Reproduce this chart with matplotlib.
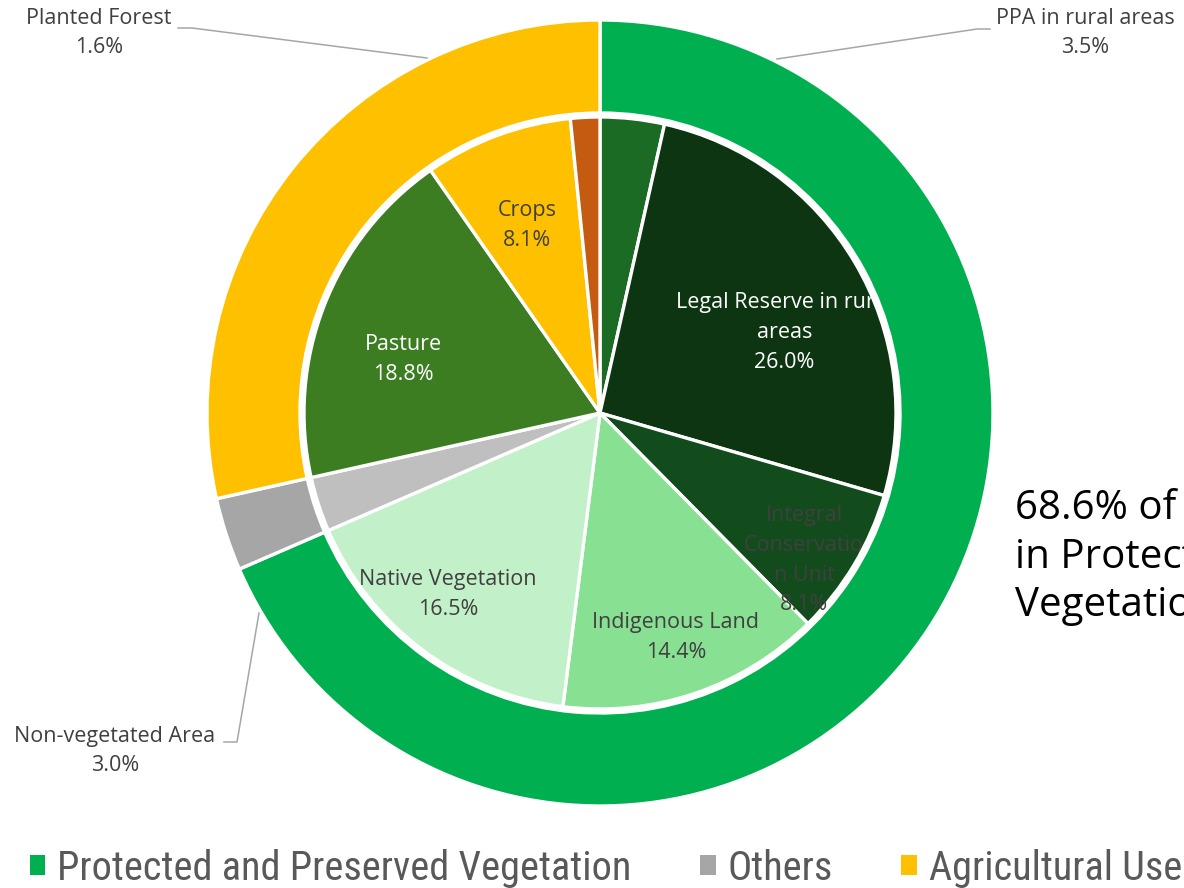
import numpy as np
import matplotlib.pyplot as plt
from matplotlib.patches import Patch

plt.rcParams['font.family'] = ['Open Sans', 'DejaVu Sans']

# land use groups (outer ring)
groups = ["Protected and Preserved Vegetation", "Others", "Agricultural Use"]
group_colors = ["#00B050", "#A6A6A6", "#FFC000"]

# land use classes (inner pie), clockwise from the top
classes = ["PPA in rural areas", "Legal Reserve in rural areas", "Integral Conservation Unit",
           "Indigenous Land", "Native Vegetation", "Non-vegetated Area",
           "Pasture", "Crops", "Planted Forest"]
class_pct = [3.5, 26.0, 8.1, 14.4, 16.5, 3.0, 18.8, 8.1, 1.6]
class_group = [0, 0, 0, 0, 0, 1, 2, 2, 2]
class_colors = ["#1B6B24", "#0D3512", "#134C1C", "#88E092", "#C2F0C8",
                "#BFBFBF", "#3C7D22", "#FFC000", "#C55A11"]
# wrapped text as it appears inside the slices
class_text = ["PPA in rural areas", "Legal Reserve in rural\nareas", "Integral\nConservatio\nn Unit",
              "Indigenous Land", "Native Vegetation", "Non-vegetated Area",
              "Pasture", "Crops", "Planted Forest"]

group_pct = [round(sum(p for p, g in zip(class_pct, class_group) if g == i), 1)
             for i in range(len(groups))]

W, H = 1184, 888
cx, cy = 600, H - 413
R_OUT, R_RING_IN, R_IN = 393, 300, 296

fig = plt.figure(figsize=(W / 100, H / 100), dpi=100)
ax = fig.add_axes([0, 0, 1, 1])

outer, _ = ax.pie(group_pct, radius=R_OUT, center=(cx, cy), startangle=90, counterclock=False,
                  colors=group_colors,
                  wedgeprops=dict(width=R_OUT - R_RING_IN, edgecolor="white", linewidth=2.4))
for w in outer:
    w.set_zorder(3)

inner, _ = ax.pie(class_pct, radius=R_IN, center=(cx, cy), startangle=90, counterclock=False,
                  colors=class_colors,
                  wedgeprops=dict(edgecolor="white", linewidth=2.4))
for w in inner:
    w.set_zorder(1)

LABEL_SIZE = 15.5
LABEL_SPACING = 1.55

# labels inside slices: radius fraction, angular nudge (deg), colour
inside = {1: (0.68, -7, "white"), 2: (0.85, -5, "#404040"), 3: (0.80, 0, "#404040"),
          4: (0.80, -3, "#404040"), 6: (0.69, 6, "white"), 7: (0.68, 1, "#404040")}
for i, (rf, nudge, col) in inside.items():
    w = inner[i]
    a = np.deg2rad((w.theta1 + w.theta2) / 2 + nudge)
    r = rf * R_IN
    ax.text(cx + r * np.cos(a), cy + r * np.sin(a), f"{class_text[i]}\n{class_pct[i]:.1f}%",
            ha="center", va="center", fontsize=LABEL_SIZE, color=col, zorder=2,
            linespacing=LABEL_SPACING)

# labels outside with leader lines (pixel positions, y measured from top)
outside = {
    0: ((1085, 33), [(777, 59), (977, 29), (990, 29)]),
    8: ((99, 33), [(427, 58), (192, 28), (178, 28)]),
    5: ((115, 751), [(259, 613), (237, 742), (224, 742)]),
}
for i, ((tx, ty), pts) in outside.items():
    xs = [p[0] for p in pts]
    ys = [H - p[1] for p in pts]
    ax.plot(xs, ys, color="#A6A6A6", lw=1.1, zorder=4)
    ax.text(tx, H - ty, f"{class_text[i]}\n{class_pct[i]:.1f}%", ha="center", va="center",
            fontsize=LABEL_SIZE, color="#404040", zorder=4, linespacing=LABEL_SPACING)

ax.text(1015, H - 557, "68.6% of the territory\nin Protected and Preserved\nVegetation",
        ha="left", va="center", fontsize=29, color="black", linespacing=1.25, zorder=5)

handles = [Patch(facecolor=c, edgecolor="none") for c in group_colors]
ax.legend(handles, groups, loc="center left", bbox_to_anchor=(30 / W, (H - 868) / H), ncol=3,
          frameon=False, labelcolor="#595959", handlelength=0.38,
          handleheight=0.38, handletextpad=0.3, columnspacing=1.7,
          borderpad=0, borderaxespad=0,
          prop={"family": ["Roboto Condensed", "Liberation Sans Narrow", "Open Sans"], "size": 29})

ax.set_xlim(0, W)
ax.set_ylim(0, H)
ax.set_aspect("equal")
ax.set_axis_off()

fig.savefig("out.png", dpi=100)
